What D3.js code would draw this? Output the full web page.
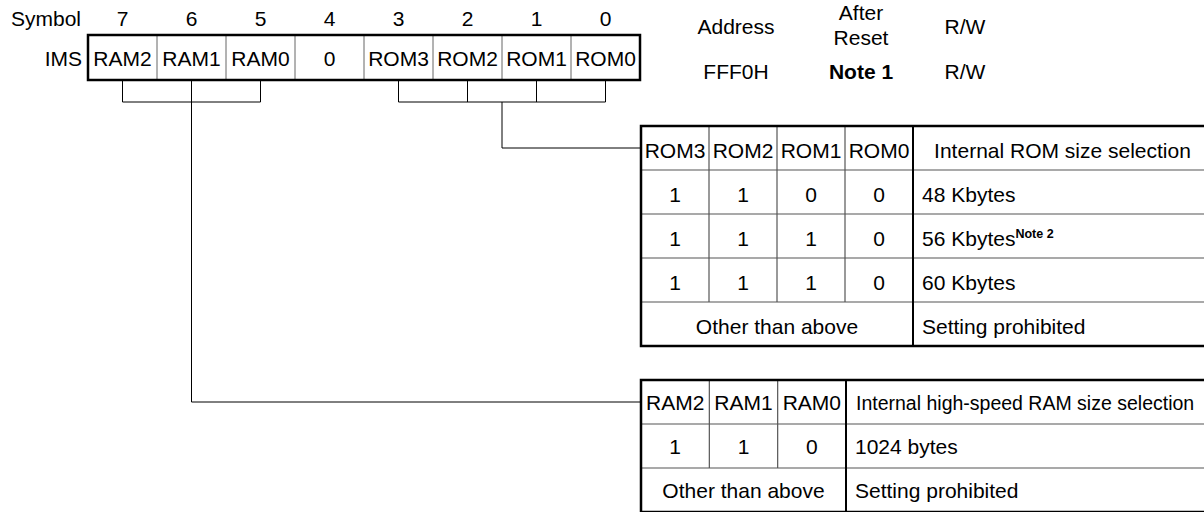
<!DOCTYPE html>
<html><head><meta charset="utf-8">
<script src="https://cdn.jsdelivr.net/npm/d3@7"></script>
<style>
html,body{margin:0;padding:0;background:#fff;}
svg{display:block;font-family:"Liberation Sans",Arial,sans-serif;}
</style></head>
<body><svg id="c" width="1204" height="512"></svg>
<script>
// ---- data ----
const bitNumbers = [7,6,5,4,3,2,1,0];
const bitNames = ["RAM2","RAM1","RAM0","0","ROM3","ROM2","ROM1","ROM0"];
const registerName = "IMS";
const headerLabels = ["Address", "After\nReset", "R/W"];
const headerValues = ["FFF0H", "Note 1", "R/W"];
const romBits = ["ROM3","ROM2","ROM1","ROM0"];
const romTitle = "Internal ROM size selection";
const romRows = [[1,1,0,0],[1,1,1,0],[1,1,1,0]];
const romResults = ["48 Kbytes","56 Kbytes","60 Kbytes"];
const romNotes = ["","Note 2",""];
const ramBits = ["RAM2","RAM1","RAM0"];
const ramTitle = "Internal high-speed RAM size selection";
const ramRows = [[1,1,0]];
const ramResults = ["1024 bytes"];
const otherLabel = "Other than above";
const otherResult = "Setting prohibited";

// ---- layout ----
const svg = d3.select("#c");
const FS = 21;
const regX = d3.scaleBand().domain(bitNumbers).range([88, 640]);
const regTop = 35, regBot = 80, brY = 102;

// Symbol row
svg.append("text").attr("x", 81).attr("y", 26).attr("text-anchor","end")
  .attr("font-size", FS).text("Symbol");
svg.selectAll("text.bitnum").data(bitNumbers).enter().append("text")
  .attr("class","bitnum").attr("x", d => regX(d) + regX.bandwidth()/2).attr("y", 26)
  .attr("text-anchor","middle").attr("font-size", FS).text(d => d);

svg.append("text").attr("x", 82).attr("y", 66).attr("text-anchor","end")
  .attr("font-size", FS).text(registerName);

// register cells
svg.selectAll("line.regdiv").data(bitNumbers.slice(1)).enter().append("line")
  .attr("x1", d => regX(d)).attr("x2", d => regX(d)).attr("y1", regTop).attr("y2", regBot)
  .attr("stroke", "#666").attr("stroke-width", 1);
svg.append("rect").attr("x", regX.range()[0]).attr("y", regTop)
  .attr("width", regX.range()[1]-regX.range()[0]).attr("height", regBot-regTop)
  .attr("fill","none").attr("stroke","#000").attr("stroke-width", 2.5);
svg.selectAll("text.bitname").data(bitNumbers).enter().append("text")
  .attr("x", d => regX(d) + regX.bandwidth()/2).attr("y", 66)
  .attr("text-anchor","middle").attr("font-size", FS).text((d,i) => bitNames[i]);

// header
const hdrX = [736, 861, 965];
headerLabels.forEach((t,i) => {
  const lines = t.split("\n");
  if (lines.length === 1) {
    svg.append("text").attr("x", hdrX[i]).attr("y", 34).attr("text-anchor","middle")
      .attr("font-size", FS).text(lines[0]);
  } else {
    svg.append("text").attr("x", hdrX[i]).attr("y", 20).attr("text-anchor","middle")
      .attr("font-size", FS).text(lines[0]);
    svg.append("text").attr("x", hdrX[i]).attr("y", 45).attr("text-anchor","middle")
      .attr("font-size", FS).text(lines[1]);
  }
});
headerValues.forEach((t,i) => {
  svg.append("text").attr("x", hdrX[i]).attr("y", 79).attr("text-anchor","middle")
    .attr("font-size", FS).attr("font-weight", i===1 ? "bold" : "normal").text(t);
});

// brackets
function bracket(bits, leaderY) {
  const xs = bits.map(b => regX(bitNumbers[bitNames.indexOf(b)]) + regX.bandwidth()/2);
  const g = svg.append("g").attr("stroke","#000").attr("stroke-width",1).attr("fill","none");
  xs.forEach(x => g.append("line").attr("x1",x).attr("x2",x).attr("y1",regBot).attr("y2",brY));
  const x0 = d3.min(xs), x1 = d3.max(xs), xm = (x0+x1)/2;
  g.append("line").attr("x1",x0).attr("x2",x1).attr("y1",brY).attr("y2",brY);
  g.append("path").attr("d", `M${xm},${brY}V${leaderY}H641`);
}
bracket(romBits, 148);
bracket(ramBits, 402);

// tables
function table(bits, title, rows, results, notes, top, rowH, descX, titleFS, dyText) {
  const nRows = rows.length + 2;
  const colX = d3.scaleBand().domain(bits).range([641, descX]);
  const rowY = d3.scaleBand().domain(d3.range(nRows)).range([top, top + rowH*nRows]);
  const right = 1210;
  const bottom = rowY.range()[1];
  const g = svg.append("g");
  g.selectAll("line.h").data(d3.range(1, nRows)).enter().append("line")
    .attr("x1", 641).attr("x2", right).attr("y1", d => rowY(d)).attr("y2", d => rowY(d))
    .attr("stroke","#555").attr("stroke-width",1.2);
  g.selectAll("line.v").data(bits.slice(1)).enter().append("line")
    .attr("x1", d => colX(d)).attr("x2", d => colX(d)).attr("y1", top).attr("y2", rowY(nRows-1))
    .attr("stroke","#555").attr("stroke-width",1.2);
  g.append("line").attr("x1", descX).attr("x2", descX).attr("y1", top).attr("y2", bottom)
    .attr("stroke","#000").attr("stroke-width",2);
  g.append("rect").attr("x", 641).attr("y", top).attr("width", right-641).attr("height", bottom-top)
    .attr("fill","none").attr("stroke","#000").attr("stroke-width",2.5);
  const cy = i => rowY(i) + rowY.bandwidth()/2 + dyText;
  g.selectAll("text.hb").data(bits).enter().append("text")
    .attr("x", d => colX(d) + colX.bandwidth()/2).attr("y", cy(0))
    .attr("text-anchor","middle").attr("font-size", FS).text(d => d);
  g.append("text").attr("x", titleFS < FS ? descX + 10 : (descX + 1204)/2 + 4).attr("y", cy(0))
    .attr("text-anchor", titleFS < FS ? "start" : "middle").attr("font-size", titleFS).text(title);
  rows.forEach((r, ri) => {
    r.forEach((v, ci) => {
      g.append("text").attr("x", colX(bits[ci]) + colX.bandwidth()/2).attr("y", cy(ri+1))
        .attr("text-anchor","middle").attr("font-size", FS).text(v);
    });
    const t = g.append("text").attr("x", descX + 9).attr("y", cy(ri+1)).attr("font-size", FS).text(results[ri]);
    if (notes && notes[ri]) {
      t.append("tspan").attr("font-size", 12.5).attr("font-weight","bold").attr("dy", -8).text(notes[ri]);
    }
  });
  g.append("text").attr("x", (641+descX)/2).attr("y", cy(nRows-1))
    .attr("text-anchor","middle").attr("font-size", FS).text(otherLabel);
  g.append("text").attr("x", descX + 9).attr("y", cy(nRows-1)).attr("font-size", FS).text(otherResult);
}
table(romBits, romTitle, romRows, romResults, romNotes, 126, 44, 913, FS, 9.5);
table(ramBits, ramTitle, ramRows, ramResults, null, 380, 44, 846, 19.5, 8);
</script></body></html>
